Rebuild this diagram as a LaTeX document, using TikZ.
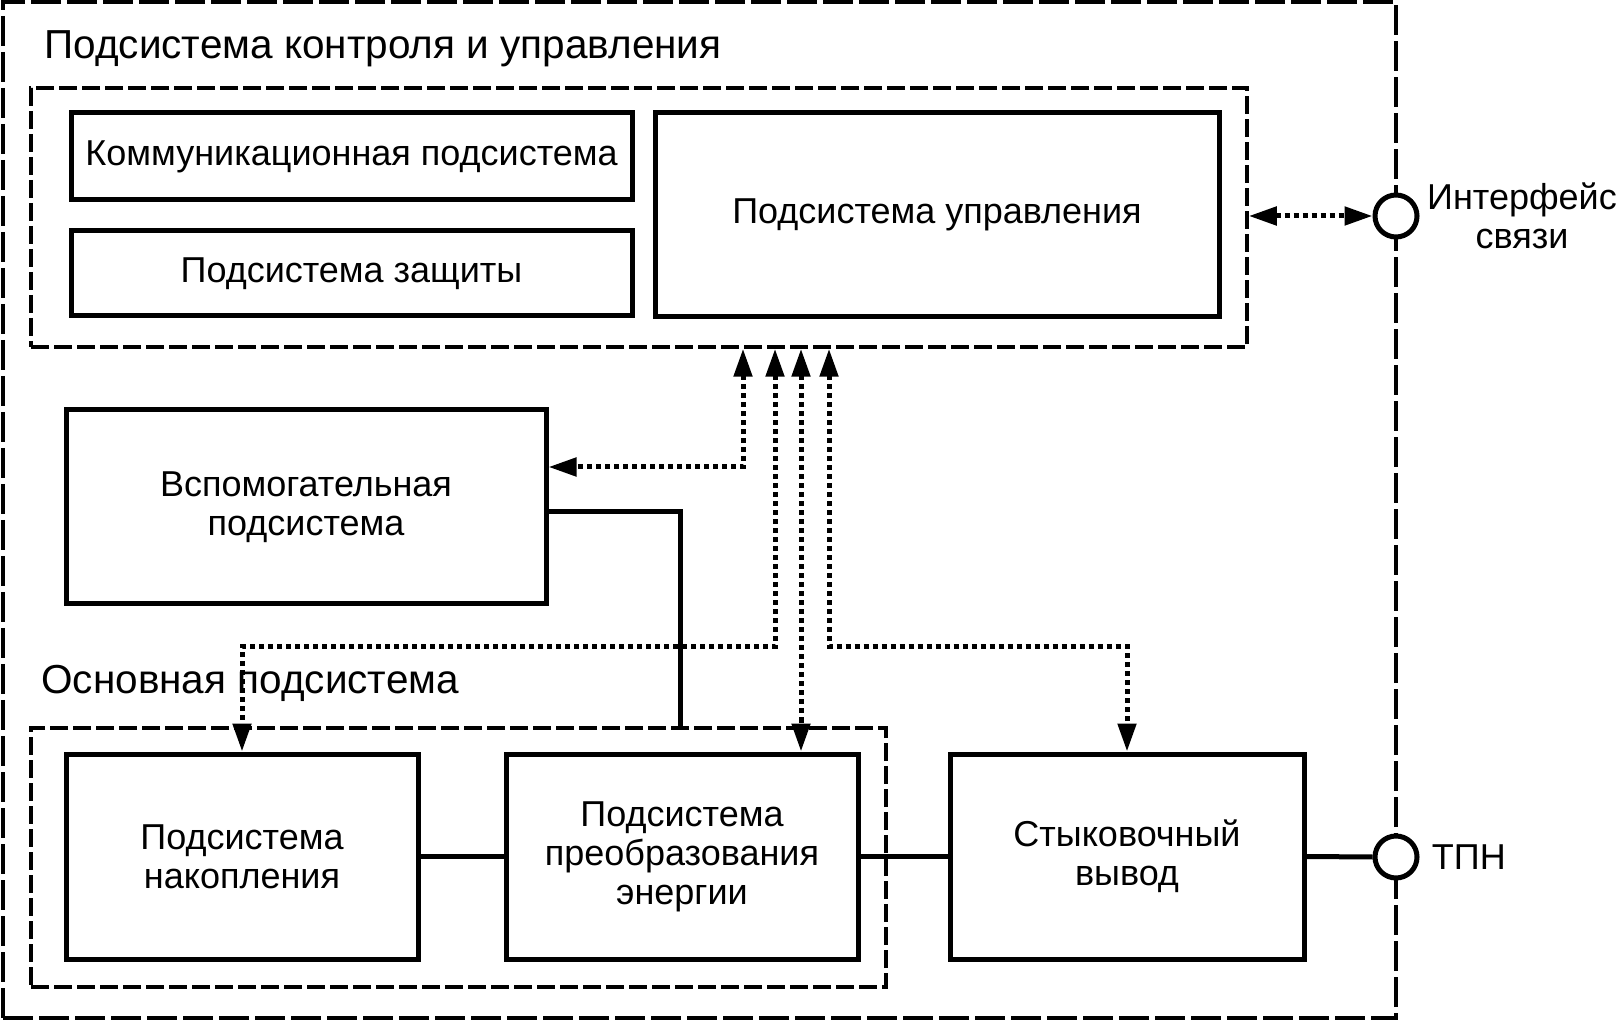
\documentclass[tikz,border=0pt]{standalone}
\usepackage{fontspec}
\setmainfont{Liberation Sans}
\usetikzlibrary{arrows.meta,positioning}

\begin{document}
\begin{tikzpicture}[x=0.5pt,y=-0.5pt,
		>={Triangle[length=14pt,width=9pt]},
		blok/.style={draw,line width=2.5pt,align=center,inner sep=0pt,font=\fontsize{18}{19.5}\selectfont},
		ramka/.style={draw,line width=1.75pt,dash pattern=on 9pt off 2.5pt,inner sep=0pt},
		uzel/.style={draw,circle,fill=white,line width=2.5pt,minimum size=21pt,inner sep=0pt},
		svyaz/.style={line width=2.5pt},
		upr/.style={line width=2.5pt,dash pattern=on 2.5pt off 2pt},
		nadpis/.style={font=\fontsize{18}{19.5}\selectfont,inner sep=0pt},
		zagolovok/.style={font=\fontsize{20.25}{22}\selectfont,inner sep=0pt}]
		
		\useasboundingbox (0,0) rectangle (1616,1020);
		
		
		% рамки
		\node[ramka,line width=2.25pt,dash pattern=on 15pt off 3pt,minimum width=696.5pt,minimum height=508pt] (vnesh) at (699.5,510) {};
		\node[ramka,minimum width=608pt,minimum height=129.5pt] (ctrl) at (639,217.5) {};
		\node[ramka,minimum width=427.5pt,minimum height=129.5pt] (osn) at (458.5,857.5) {};
		
		\node[zagolovok,anchor=west] (ctrllbl) at (44,49) {Подсистема контроля и управления};
		\node[zagolovok,anchor=west] (osnlbl) at (41,683) {Основная подсистема};
		
		
		% блоки
		\node[blok,minimum width=280.5pt,minimum height=43.5pt] (komm) at (351.5,156.5) {Коммуникационная подсистема};
		\node[blok,minimum width=280.5pt,minimum height=42.5pt] (zash) at (351.5,273.5) {Подсистема защиты};
		\node[blok,minimum width=282pt,minimum height=102pt] (upravl) at (937,215) {Подсистема управления};
		\node[blok,minimum width=240pt,minimum height=97pt] (vspom) at (306,507) {Вспомогательная\\подсистема};
		\node[blok,minimum width=176pt,minimum height=102.5pt] (nakop) at (242,856.5) {Подсистема\\накопления};
		\node[blok,minimum width=176pt,minimum height=102.5pt] (preob) at (682,856.5) {Подсистема\\преобразования\\энергии};
		\node[blok,minimum width=177pt,minimum height=102.5pt] (styk) at (1127,856.5) {Стыковочный\\вывод};
		
		
		% интерфейсы
		\node[uzel] (ifc) at (1396,216) {};
		\node[uzel] (tpn) at (1396,857) {};
		\node[nadpis,align=center] (ifclbl) at (1522,216) {Интерфейс\\связи};
		\node[nadpis,right=6pt of tpn] (tpnlbl) {ТПН};
		
		
		% связи
		\coordinate (t1) at (ctrl.south -| 743,0);
		\coordinate (t2) at (ctrl.south -| 775,0);
		\coordinate (t3) at (ctrl.south -| 801,0);
		\coordinate (t4) at (ctrl.south -| 829,0);
		\coordinate (shina) at (0,647);
		
		\draw[upr,<->] (ifc.west -| ctrl.east) -- (ifc.west);
		\draw[upr,<->] (t1) |- ([yshift=20pt]vspom.east);
		\draw[upr,<->] (t2) |- (shina -| nakop.north) -- (nakop.north);
		\draw[upr,<->] (t3) -- (t3 |- preob.north);
		\draw[upr,<->] (t4) |- (shina -| styk.north) -- (styk.north);
		
		\draw[svyaz] ([yshift=-2.5pt]vspom.east) -| (osn.north -| 680,0);
		\draw[svyaz] (nakop.east) -- (preob.west);
		\draw[svyaz] (preob.east) -- (styk.west);
		\draw[svyaz] (styk.east) -- (tpn.west);
		
		
	\end{tikzpicture}
\end{document}
